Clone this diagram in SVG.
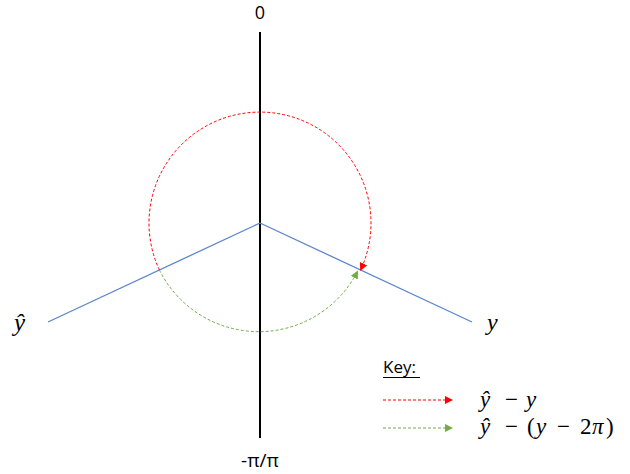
<svg xmlns="http://www.w3.org/2000/svg" width="630" height="474" viewBox="0 0 630 474">
<style>
.lbl{font-family:"Open Sans","Liberation Sans",sans-serif;font-size:17px;fill:#000}
.math{font-family:"Liberation Serif","DejaVu Serif",serif;font-size:23px;fill:#000}
.it{font-style:italic}
.blue{stroke:#5B86CE;stroke-width:1.3;fill:none}
.red{stroke:#FF0000;stroke-width:1;stroke-dasharray:3,2;fill:none}
.green{stroke:#70AD47;stroke-width:1;stroke-dasharray:3,2;fill:none}
</style>
<defs>
<marker id="ar" markerWidth="8" markerHeight="8" refX="7" refY="4" orient="auto" markerUnits="userSpaceOnUse"><path d="M0,0 L8,4 L0,8 Z" fill="#FF0000"/></marker>
<marker id="ag" markerWidth="8" markerHeight="8" refX="7" refY="4" orient="auto" markerUnits="userSpaceOnUse"><path d="M0,0 L8,4 L0,8 Z" fill="#70AD47"/></marker>
</defs>
<rect width="630" height="474" fill="#fff"/>
<g id="axis">
<line x1="260" y1="32" x2="260" y2="438" stroke="#000" stroke-width="2"/>
<text class="lbl" x="260" y="19" text-anchor="middle" style="font-size:18px">0</text>
<text class="lbl" x="260" y="467" text-anchor="middle" style="font-size:19px">-π/π</text>
</g>
<g id="connectors">
<line class="blue" x1="260" y1="223" x2="48" y2="322"/>
<line class="blue" x1="260" y1="223" x2="472" y2="322"/>
<path class="red" d="M159.4,270 A111,111 0 1 1 360.6,270" marker-end="url(#ar)"/>
<path class="green" d="M159.4,270 A111,111 0 0 0 357.5,271.5" marker-end="url(#ag)"/>
</g>
<g id="yhat">
<text class="math it" x="14" y="331" style="font-size:25px">ŷ</text>
</g>
<g id="y">
<text class="math it" x="487" y="330" style="font-size:24px">y</text>
</g>
<g id="key">
<text class="lbl" x="383" y="373">Key:</text>
<line x1="383" y1="377.5" x2="420" y2="377.5" stroke="#000" stroke-width="1.2"/>
<line class="red" x1="383" y1="400" x2="452" y2="400" marker-end="url(#ar)"/>
<line class="green" x1="383" y1="428" x2="452" y2="428" marker-end="url(#ag)"/>
<text class="math" y="407"><tspan class="it" x="480">ŷ</tspan><tspan x="505">−</tspan><tspan class="it" x="526">y</tspan></text>
<text class="math" y="434"><tspan class="it" x="480">ŷ</tspan><tspan x="505">−</tspan><tspan x="527">(</tspan><tspan class="it" x="536">y</tspan><tspan x="557">−</tspan><tspan x="580">2</tspan><tspan class="it" x="592">π</tspan><tspan x="606">)</tspan></text>
</g>
</svg>
